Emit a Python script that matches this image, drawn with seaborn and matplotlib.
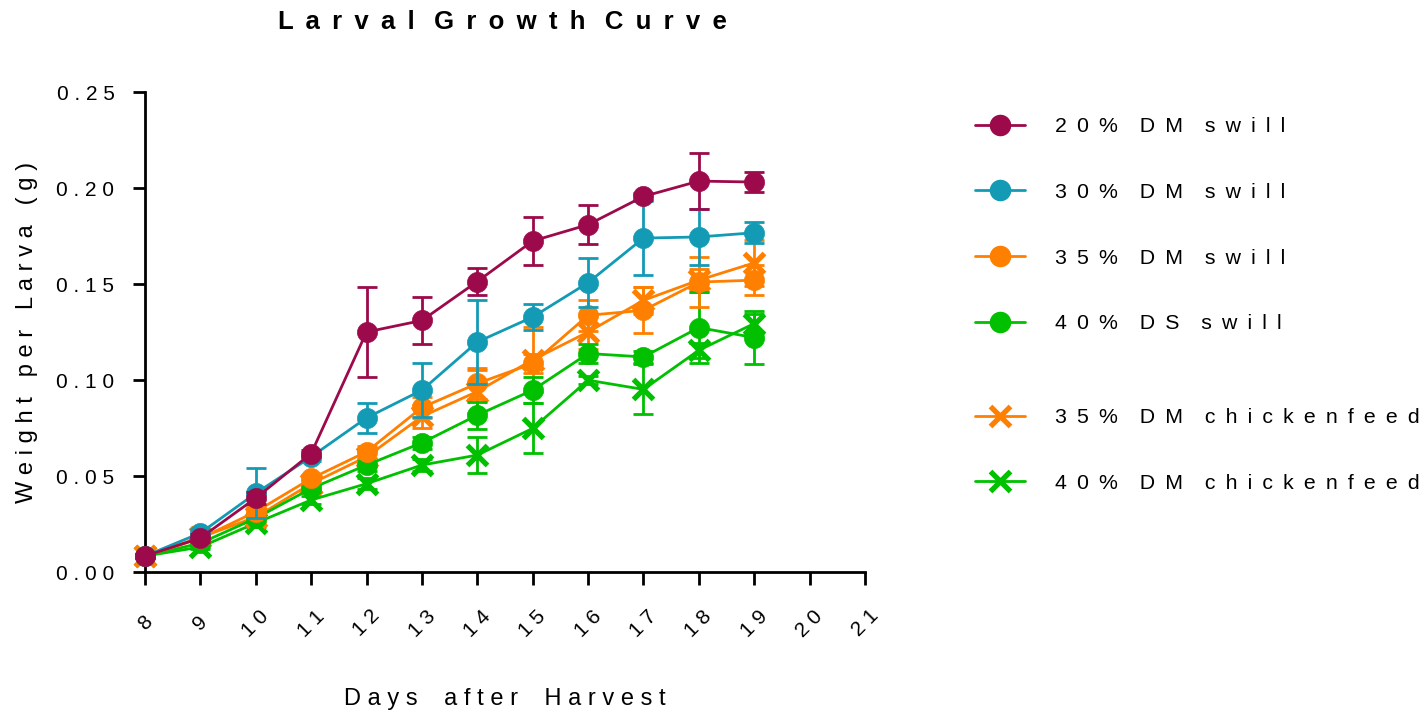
import matplotlib
matplotlib.use("Agg")
import matplotlib.pyplot as plt
from matplotlib.lines import Line2D
import seaborn as sns
import pandas as pd

# ---- data: mean weight per larva (g) and standard error, by day after harvest ----
days = [8, 9, 10, 11, 12, 13, 14, 15, 16, 17, 18, 19]
x_ticks = list(range(8, 22))
y_ticks = [0.00, 0.05, 0.10, 0.15, 0.20, 0.25]

labels = ["20% DM swill", "30% DM swill", "35% DM swill", "40% DS swill",
          "35% DM chickenfeed", "40% DM chickenfeed"]

dm20_swill = [0.0083, 0.0177, 0.0385, 0.0617, 0.1250, 0.1310, 0.1513, 0.1724, 0.1809, 0.1956, 0.2036, 0.2031]
dm20_swill_se = [0.001, 0.002, 0.003, 0.002, 0.0235, 0.012, 0.007, 0.0124, 0.010, 0.002, 0.0145, 0.0052]

dm30_swill = [0.0083, 0.0203, 0.0410, 0.0600, 0.0803, 0.0947, 0.1198, 0.1328, 0.1507, 0.1739, 0.1745, 0.1767]
dm30_swill_se = [0.001, 0.002, 0.013, 0.002, 0.0078, 0.014, 0.022, 0.007, 0.0126, 0.0194, 0.0148, 0.0055]

dm35_swill = [0.0083, 0.0175, 0.0314, 0.0487, 0.0626, 0.0857, 0.0982, 0.1086, 0.1337, 0.1363, 0.1510, 0.1520]
dm35_swill_se = [0.001, 0.002, 0.003, 0.002, 0.003, 0.0057, 0.008, 0.005, 0.008, 0.012, 0.013, 0.0078]

ds40_swill = [0.0083, 0.0150, 0.0280, 0.0435, 0.0557, 0.0673, 0.0817, 0.0947, 0.1138, 0.1120, 0.1273, 0.1221]
ds40_swill_se = [0.001, 0.002, 0.002, 0.002, 0.003, 0.003, 0.007, 0.0069, 0.005, 0.003, 0.0185, 0.0136]

dm35_chicken = [0.0083, 0.0180, 0.0286, 0.0460, 0.0600, 0.0810, 0.0940, 0.1105, 0.1250, 0.1415, 0.1520, 0.1610]
dm35_chicken_se = [0.001, 0.002, 0.002, 0.002, 0.003, 0.006, 0.011, 0.017, 0.009, 0.007, 0.006, 0.012]

dm40_chicken = [0.0083, 0.0130, 0.0255, 0.0375, 0.0460, 0.0557, 0.0609, 0.0748, 0.0999, 0.0951, 0.1155, 0.1294]
dm40_chicken_se = [0.001, 0.001, 0.002, 0.002, 0.003, 0.003, 0.0095, 0.013, 0.002, 0.013, 0.004, 0.005]

colors = ["#9C0A4B", "#139BB5", "#FF8000", "#00C000", "#FF8000", "#00C000"]
markers = ["o", "o", "o", "o", "x", "x"]

means = [dm20_swill, dm30_swill, dm35_swill, ds40_swill, dm35_chicken, dm40_chicken]
errors = [dm20_swill_se, dm30_swill_se, dm35_swill_se, ds40_swill_se, dm35_chicken_se, dm40_chicken_se]

frames = []
for lab, m, e in zip(labels, means, errors):
    frames.append(pd.DataFrame({"day": days, "weight": m, "se": e, "group": lab}))
df = pd.concat(frames, ignore_index=True)

THIN = "\u2009"


def spaced(s, letter_gap=" ", word_gap="   "):
    """Letter-spaced rendering of a label."""
    return word_gap.join(letter_gap.join(w) for w in s.split(" "))


sns.set_theme(style="ticks")
plt.rcParams["font.family"] = ["Liberation Sans", "DejaVu Sans"]

W, H = 1427, 714
fig = plt.figure(figsize=(W / 100, H / 100), dpi=100)
ax = fig.add_axes([145 / W, 142 / H, 720 / W, 480 / H])

# drawing order: chickenfeed groups at the back, 20% DM swill on top
draw_order = [5, 4, 3, 2, 1, 0]
for z, i in enumerate(draw_order):
    sub = df[df["group"] == labels[i]]
    col = colors[i]
    ax.errorbar(sub["day"], sub["weight"], yerr=sub["se"], fmt="none",
                ecolor=col, elinewidth=2.0, capsize=7, capthick=2.0,
                clip_on=False, zorder=2 + 2 * z)
    if markers[i] == "o":
        mk = dict(marker="o", markersize=14.5, markeredgecolor=col,
                  markerfacecolor=col, markeredgewidth=0.5)
    else:
        mk = dict(marker="x", markersize=14, markeredgecolor=col,
                  markeredgewidth=3.8)
    sns.lineplot(data=sub, x="day", y="weight", color=col, linewidth=2.0,
                 errorbar=None, legend=False, ax=ax, clip_on=False,
                 zorder=3 + 2 * z, **mk)

ax.set_xlim(8, 21)
ax.set_ylim(0, 0.25)
sns.despine(ax=ax)
for side in ("left", "bottom"):
    ax.spines[side].set_linewidth(2.0)
    ax.spines[side].set_color("black")

ax.set_yticks(y_ticks)
ax.set_yticklabels([spaced(f"{v:.2f}") for v in y_ticks])
ax.set_xticks(x_ticks)
ax.set_xticklabels([spaced(str(d)) for d in x_ticks], rotation=45,
                   ha="center", va="center", rotation_mode="anchor")
ax.tick_params(axis="both", direction="out", length=9, width=2.0,
               color="black", labelsize=15, labelcolor="black")
ax.tick_params(axis="y", pad=13)
ax.tick_params(axis="x", pad=28)

ax.set_xlabel(spaced("Days after Harvest", " ", "    "), fontsize=17,
              color="black", va="center", ha="center")
ax.xaxis.set_label_coords(0.5, (572 - 699) / 480)
ax.set_ylabel(spaced("Weight per Larva (g)", " ", "   "), fontsize=17,
              color="black", va="center", ha="center")
ax.yaxis.set_label_coords((27 - 145) / 720, 0.5)

fig.text(502 / W, 1 - 22 / H, spaced("Larval Growth Curve", " " + THIN, "  " + THIN),
         ha="center", va="center", fontsize=18.5, fontweight="bold",
         color="black")

# legend: the four swill diets, then the two chickenfeed diets below a gap
handles = []
for i in range(6):
    if markers[i] == "o":
        h = Line2D([], [], color=colors[i], lw=2.0, marker="o", markersize=14.5,
                   markerfacecolor=colors[i], markeredgecolor=colors[i])
    else:
        h = Line2D([], [], color=colors[i], lw=2.0, marker="x", markersize=14,
                   markeredgecolor=colors[i], markeredgewidth=3.8)
    handles.append(h)
legend_labels = [spaced(l, " " + THIN, "   " + THIN) for l in labels]
leg_kw = dict(frameon=False, loc="upper left", borderpad=0, borderaxespad=0,
              handlelength=2.35, handletextpad=1.4, labelspacing=2.2,
              fontsize=15.3, labelcolor="black")
leg1 = fig.legend(handles[:4], legend_labels[:4],
                  bbox_to_anchor=(975 / W, 1 - 117 / H), **leg_kw)
leg2 = fig.legend(handles[4:], legend_labels[4:],
                  bbox_to_anchor=(975 / W, 1 - 408 / H), **leg_kw)

fig.savefig("out.png", dpi=100, facecolor="white")
